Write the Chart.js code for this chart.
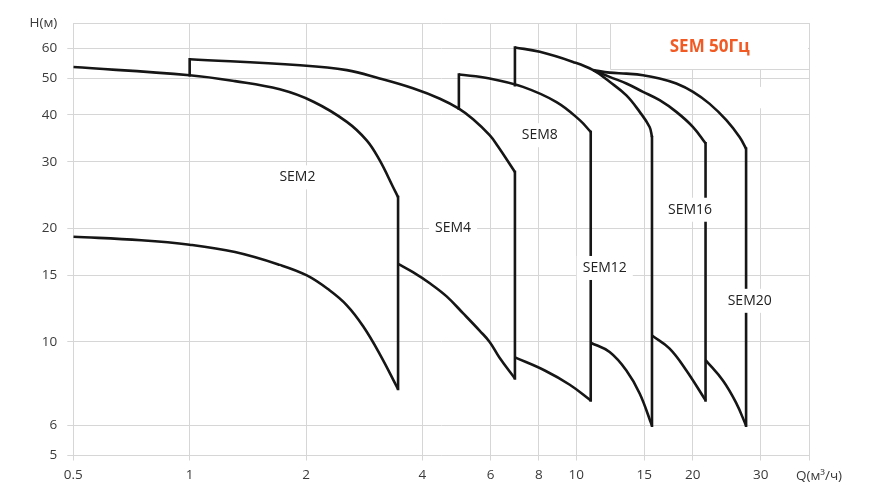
<!DOCTYPE html>
<html>
<head>
<meta charset="utf-8">
<script src="https://cdn.jsdelivr.net/npm/chart.js@4/dist/chart.umd.min.js"></script>
<style>
  html, body { margin: 0; padding: 0; background: #fff; }
  canvas { display: block; }
</style>
</head>
<body>
<canvas id="chart" width="871" height="485"></canvas>
<script>
// Axis ticks (log–log Q–H field)
const xTickValues = [0.5, 1, 2, 4, 6, 8, 10, 15, 20, 30, 40];
const xTickLabels = ['0.5', '1', '2', '4', '6', '8', '10', '15', '20', '30', ''];
const yTickValues = [5, 6, 10, 15, 20, 30, 40, 50, 60, 70];
const yTickLabels = ['5', '6', '10', '15', '20', '30', '40', '50', '60', ''];

// SEM2
const sem2UpperQ = [0.5, 1.0, 1.31, 1.71, 2.09, 2.55, 2.87, 3.10, 3.36, 3.46];
const sem2UpperH = [53.5, 50.9, 49.1, 46.7, 43.3, 38.3, 34.2, 30.3, 25.7, 24.2];
const sem2LowerQ = [0.5, 0.75, 1.0, 1.31, 1.71, 2.01, 2.30, 2.55, 2.81, 3.10, 3.46];
const sem2LowerH = [19.0, 18.6, 18.1, 17.3, 16.0, 15.0, 13.7, 12.5, 11.0, 9.3, 7.5];

// SEM4
const sem4UpperQ = [1.0, 1.93, 2.55, 3.10, 3.78, 4.44, 4.97, 5.41, 5.97, 6.27, 6.94];
const sem4UpperH = [56.1, 54.1, 52.5, 49.9, 47.0, 44.1, 41.5, 38.9, 35.3, 33.0, 28.2];
const sem4LowerQ = [3.46, 3.78, 4.18, 4.62, 5.10, 5.63, 5.97, 6.34, 6.94];
const sem4LowerH = [16.1, 15.3, 14.3, 13.2, 11.9, 10.7, 10.0, 9.06, 8.0];

// SEM8
const sem8UpperQ = [4.97, 5.97, 7.28, 8.89, 10.21, 10.9];
const sem8UpperH = [51.1, 49.9, 47.4, 43.2, 38.7, 36.0];
const sem8LowerQ = [6.94, 8.29, 9.62, 10.9];
const sem8LowerH = [9.1, 8.4, 7.7, 7.0];

// SEM12
const sem12UpperQ = [6.94, 8.05, 9.81, 11.06, 12.2, 13.48, 14.59, 15.48, 15.7];
const sem12UpperH = [60.3, 58.7, 55.2, 52.5, 48.9, 45.0, 40.7, 37.1, 34.9];
const sem12LowerQ = [10.9, 12.2, 13.48, 14.59, 15.7];
const sem12LowerH = [9.95, 9.4, 8.4, 7.3, 6.0];

// SEM16
const sem16UpperQ = [11.06, 12.2, 13.48, 14.88, 16.43, 18.15, 20.05, 21.6];
const sem16UpperH = [52.5, 50.4, 48.4, 46.0, 43.7, 40.7, 37.1, 33.6];
const sem16LowerQ = [15.7, 17.44, 19.27, 21.6];
const sem16LowerH = [10.4, 9.6, 8.4, 7.0];

// SEM20
const sem20UpperQ = [11.06, 12.2, 13.48, 14.88, 16.43, 18.15, 20.05, 22.1, 24.45, 26.45, 27.5];
const sem20UpperH = [52.5, 51.7, 51.4, 50.9, 49.9, 48.4, 46.0, 42.8, 38.7, 34.9, 32.5];
const sem20LowerQ = [21.6, 23.95, 25.9, 27.5];
const sem20LowerH = [8.95, 7.9, 6.9, 6.0];

// Left edges of SEM4, SEM8, SEM12: from the neighbouring curve up to the upper curve start
const leftEdgeQ = [1.0, 4.97, 6.94];
const leftEdgeBottomH = [50.9, 41.5, 47.9];
const leftEdgeTopH = [56.1, 51.1, 60.3];

// Model name labels, placed at (Q, H)
const modelNames = ['SEM2', 'SEM4', 'SEM8', 'SEM12', 'SEM16', 'SEM20'];
const modelLabelQ = [1.90, 4.80, 8.05, 11.85, 19.7, 28.1];
const modelLabelH = [27.3, 20.0, 35.3, 15.7, 22.4, 12.85];

const chartTitle = 'SEM 50Гц';
const xTitle = 'Q(м³/ч)';
const yTitle = 'H(м)';

const gridColor = '#d6d6d6';
const lineColor = '#161616';
const textColor = '#3a3a3a';
const fontFamily = '"Open Sans", "Liberation Sans", sans-serif';

const toPoints = (q, h) => q.map((v, i) => ({ x: v, y: h[i] }));

const curves = [
  [sem2UpperQ, sem2UpperH], [sem2LowerQ, sem2LowerH],
  [sem4UpperQ, sem4UpperH], [sem4LowerQ, sem4LowerH],
  [sem8UpperQ, sem8UpperH], [sem8LowerQ, sem8LowerH],
  [sem12UpperQ, sem12UpperH], [sem12LowerQ, sem12LowerH],
  [sem16UpperQ, sem16UpperH], [sem16LowerQ, sem16LowerH],
  [sem20UpperQ, sem20UpperH], [sem20LowerQ, sem20LowerH]
];

const datasets = curves.map(([q, h]) => ({
  data: toPoints(q, h),
  cubicInterpolationMode: 'default',
  tension: 0.4
}));

// Right-hand closing edge of each model's field: from lower to upper curve end
for (let i = 0; i < curves.length; i += 2) {
  const [uq, uh] = curves[i];
  const [, lh] = curves[i + 1];
  const q = uq[uq.length - 1];
  datasets.push({
    data: [{ x: q, y: lh[lh.length - 1] }, { x: q, y: uh[uh.length - 1] }],
    tension: 0,
    borderCapStyle: 'square'
  });
}

leftEdgeQ.forEach((q, i) => {
  datasets.push({
    data: [{ x: q, y: leftEdgeBottomH[i] }, { x: q, y: leftEdgeTopH[i] }],
    tension: 0,
    borderCapStyle: 'square'
  });
});

const overlay = {
  id: 'overlay',
  beforeDatasetsDraw(chart) {
    const { ctx, scales: { x, y } } = chart;
    ctx.save();
    // small break in the Q=30 grid line
    const gx = x.getPixelForValue(30);
    const g0 = y.getPixelForValue(47.4), g1 = y.getPixelForValue(41.6);
    ctx.fillStyle = '#fff';
    ctx.fillRect(gx - 3, g0, 6, g1 - g0);

    // title panel in the top-right corner
    const l = Math.round(x.getPixelForValue(12.2)) + 0.5;
    const r = x.getPixelForValue(40);
    const t = y.getPixelForValue(70);
    const b = Math.round(y.getPixelForValue(53.0)) + 0.5;
    ctx.fillStyle = '#fff';
    ctx.fillRect(l, t + 1, r - l - 1, b - t - 1);
    ctx.strokeStyle = gridColor;
    ctx.lineWidth = 1;
    ctx.beginPath();
    ctx.moveTo(l, t);
    ctx.lineTo(l, b);
    ctx.lineTo(r, b);
    ctx.stroke();
    ctx.fillStyle = '#f15a22';
    ctx.font = 'bold 17px ' + fontFamily;
    ctx.textAlign = 'center';
    ctx.textBaseline = 'middle';
    ctx.fillText(chartTitle, (l + r) / 2, (t + b) / 2 + 1);
    ctx.restore();
  },
  afterDatasetsDraw(chart) {
    const { ctx, scales: { x, y } } = chart;
    ctx.save();
    ctx.font = '14px ' + fontFamily;
    ctx.textAlign = 'center';
    ctx.textBaseline = 'middle';
    modelNames.forEach((name, i) => {
      const px = x.getPixelForValue(modelLabelQ[i]);
      const py = y.getPixelForValue(modelLabelH[i]);
      const w = ctx.measureText(name).width + 12;
      const h = 24;
      ctx.fillStyle = '#fff';
      ctx.fillRect(px - w / 2, py - h / 2, w, h);
      ctx.fillStyle = '#222';
      ctx.fillText(name, px, py);
    });
    ctx.restore();
  },
  afterDraw(chart) {
    const { ctx, chartArea } = chart;
    ctx.save();
    ctx.font = '13.5px ' + fontFamily;
    ctx.fillStyle = textColor;
    ctx.textBaseline = 'middle';
    ctx.textAlign = 'right';
    ctx.fillText(yTitle, chartArea.left - 16, chartArea.top);
    ctx.textAlign = 'center';
    ctx.fillText(xTitle, chartArea.right + 10, chartArea.bottom + 21);
    ctx.restore();
  }
};

new Chart(document.getElementById('chart'), {
  type: 'scatter',
  data: { datasets },
  plugins: [overlay],
  options: {
    responsive: false,
    animation: false,
    showLine: true,
    layout: { padding: { left: 0, top: 23, right: 62, bottom: 0 } },
    elements: {
      point: { radius: 0, hoverRadius: 0 },
      line: { borderColor: lineColor, borderWidth: 2.6, fill: false }
    },
    plugins: {
      legend: { display: false },
      tooltip: { enabled: false }
    },
    scales: {
      x: {
        type: 'logarithmic',
        min: 0.5,
        max: 40,
        afterBuildTicks(scale) { scale.ticks = xTickValues.map(v => ({ value: v })); },
        afterFit(scale) { scale.height = 29.5; },
        ticks: {
          autoSkip: false,
          maxRotation: 0,
          padding: 7,
          color: textColor,
          font: { family: fontFamily, size: 13.5 },
          callback: (v) => xTickLabels[xTickValues.indexOf(v)] ?? ''
        },
        grid: { color: gridColor, lineWidth: 1, tickLength: 5, drawTicks: true },
        border: { color: gridColor }
      },
      y: {
        type: 'logarithmic',
        min: 5,
        max: 70,
        afterBuildTicks(scale) { scale.ticks = yTickValues.map(v => ({ value: v })); },
        afterFit(scale) { scale.width = 73.3; },
        ticks: {
          autoSkip: false,
          padding: 10,
          color: textColor,
          font: { family: fontFamily, size: 13.5 },
          callback: (v) => yTickLabels[yTickValues.indexOf(v)] ?? ''
        },
        grid: {
          color: gridColor,
          lineWidth: 1,
          tickLength: 6,
          drawTicks: true,
          tickColor: (ctx) => (ctx.tick && ctx.tick.value === 70 ? 'rgba(0,0,0,0)' : gridColor)
        },
        border: { color: gridColor }
      }
    }
  }
});
</script>
</body>
</html>
